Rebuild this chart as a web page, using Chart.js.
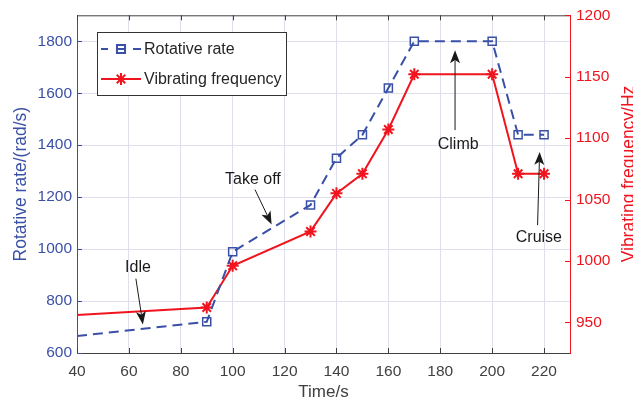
<!DOCTYPE html>
<html>
<head>
<meta charset="utf-8">
<script src="https://cdn.jsdelivr.net/npm/chart.js@4.4.1/dist/chart.umd.min.js"></script>
<style>
  html, body { margin: 0; padding: 0; background: #fff; }
  #wrap { width: 633px; height: 405px; }
</style>
</head>
<body>
<div id="wrap"><canvas id="chart"></canvas></div>
<script>
// data
const times = [40, 90, 100, 130, 140, 150, 160, 170, 200, 210, 220];
const rotativeRate = [665, 720, 990, 1170, 1350, 1440, 1620, 1800, 1800, 1440, 1440];
const vibratingFreq = [956, 962, 996, 1024, 1055, 1071, 1107, 1152, 1152, 1071, 1071];
const markerShown = [false, true, true, true, true, true, true, true, true, true, true];

const timeTicks = [40, 60, 80, 100, 120, 140, 160, 180, 200, 220];
const rateTicks = [600, 800, 1000, 1200, 1400, 1600, 1800];
const freqTicks = [950, 1000, 1050, 1100, 1150, 1200];

const BLUE = '#3a50a6';
const RED = '#f0141e';
const DARK = '#404040';
const GRID = '#dfdfec';
const FONT = '"Liberation Sans", Arial, Helvetica, sans-serif';

// phase labels with arrows, in data units of time / rotative rate
const notes = [
    { text: 'Idle', at: [63.5, 928], from: [62.7, 886], to: [65.4, 710] },
    { text: 'Take off', at: [107.8, 1267], from: [108.6, 1229], to: [115, 1095] },
    { text: 'Climb', at: [186.9, 1401], from: [185.7, 1458], to: [185.7, 1765] },
    { text: 'Cruise', at: [218, 1043], from: [217.5, 1092], to: [218.3, 1374] }
];

function pts(ys) {
    return times.map((t, i) => ({ x: t, y: ys[i] }));
}

function arrow(ctx, x0, y0, x1, y1) {
    const ang = Math.atan2(y1 - y0, x1 - x0);
    const len = 13, half = 5, notch = 0.75;
    ctx.beginPath();
    ctx.moveTo(x0, y0);
    ctx.lineTo(x1 - Math.cos(ang) * len * notch, y1 - Math.sin(ang) * len * notch);
    ctx.stroke();
    ctx.save();
    ctx.translate(x1, y1);
    ctx.rotate(ang);
    ctx.beginPath();
    ctx.moveTo(0, 0);
    ctx.lineTo(-len, -half);
    ctx.lineTo(-len * notch, 0);
    ctx.lineTo(-len, half);
    ctx.closePath();
    ctx.fill();
    ctx.restore();
}

const extras = {
    id: 'extras',
    afterDatasetsDraw(chart) {
        const { ctx, chartArea: a, scales } = chart;
        const x = scales.x, yL = scales.y, yR = scales.y2;
        ctx.save();

        // top frame line
        ctx.strokeStyle = DARK;
        ctx.lineWidth = 1;
        ctx.beginPath();
        ctx.moveTo(a.left, a.top + 0.5);
        ctx.lineTo(a.right, a.top + 0.5);
        ctx.stroke();

        // inward tick marks
        const tl = 5;
        timeTicks.forEach(v => {
            const px = Math.round(x.getPixelForValue(v)) + 0.5;
            ctx.strokeStyle = DARK;
            ctx.beginPath();
            ctx.moveTo(px, a.bottom); ctx.lineTo(px, a.bottom - tl);
            ctx.moveTo(px, a.top); ctx.lineTo(px, a.top + tl);
            ctx.stroke();
        });
        ctx.strokeStyle = BLUE;
        rateTicks.forEach(v => {
            const py = Math.round(yL.getPixelForValue(v)) + 0.5;
            ctx.beginPath();
            ctx.moveTo(a.left, py); ctx.lineTo(a.left + tl, py);
            ctx.stroke();
        });
        ctx.strokeStyle = RED;
        freqTicks.forEach(v => {
            const py = Math.round(yR.getPixelForValue(v)) + 0.5;
            ctx.beginPath();
            ctx.moveTo(a.right, py); ctx.lineTo(a.right - tl, py);
            ctx.stroke();
        });

        // right axis title, reads bottom to top like the left one
        ctx.save();
        ctx.fillStyle = RED;
        ctx.font = '17.5px ' + FONT;
        ctx.textAlign = 'center';
        ctx.textBaseline = 'middle';
        ctx.translate(629, 174);
        ctx.rotate(-Math.PI / 2);
        ctx.fillText('Vibrating frequency/Hz', 0, 0);
        ctx.restore();

        // annotations
        ctx.fillStyle = '#1a1a1a';
        ctx.strokeStyle = '#1a1a1a';
        ctx.lineWidth = 1;
        ctx.font = '16px ' + FONT;
        ctx.textAlign = 'center';
        ctx.textBaseline = 'middle';
        notes.forEach(n => {
            ctx.fillText(n.text, x.getPixelForValue(n.at[0]), yL.getPixelForValue(n.at[1]));
            arrow(ctx,
                x.getPixelForValue(n.from[0]), yL.getPixelForValue(n.from[1]),
                x.getPixelForValue(n.to[0]), yL.getPixelForValue(n.to[1]));
        });

        // legend box
        const bx = 97, by = 32, bw = 189, bh = 63;
        ctx.fillStyle = '#fff';
        ctx.fillRect(bx, by, bw, bh);
        ctx.strokeStyle = '#333';
        ctx.strokeRect(bx + 0.5, by + 0.5, bw, bh);

        const ds = chart.data.datasets;
        const rows = [49, 79];
        // rotative rate sample
        ctx.strokeStyle = BLUE;
        ctx.lineWidth = 2;
        ctx.beginPath();
        ctx.moveTo(101, rows[0]); ctx.lineTo(108, rows[0]);
        ctx.moveTo(133, rows[0]); ctx.lineTo(141, rows[0]);
        ctx.stroke();
        Chart.helpers.drawPoint(ctx, { pointStyle: 'rect', radius: 5.7, borderWidth: 1.5 }, 121, rows[0]);
        ctx.beginPath();
        ctx.moveTo(117, rows[0]); ctx.lineTo(125, rows[0]);
        ctx.stroke();
        // vibrating frequency sample
        ctx.strokeStyle = RED;
        ctx.fillStyle = RED;
        ctx.lineWidth = 2;
        ctx.beginPath();
        ctx.moveTo(101, rows[1]); ctx.lineTo(141, rows[1]);
        ctx.stroke();
        Chart.helpers.drawPoint(ctx, { pointStyle: 'star', radius: 6, borderWidth: 2 }, 121, rows[1]);

        ctx.fillStyle = '#262626';
        ctx.textAlign = 'left';
        ctx.fillText(ds[0].label, 144, rows[0] + 1);
        ctx.fillText(ds[1].label, 144, rows[1] + 1);

        ctx.restore();
    }
};

const tickFont = { size: 15.5, family: FONT };
const plain = v => String(v);

new Chart(document.getElementById('chart'), {
    type: 'line',
    data: {
        datasets: [
            {
                label: 'Rotative rate',
                data: pts(rotativeRate),
                yAxisID: 'y',
                borderColor: BLUE,
                borderWidth: 2,
                borderDash: [10, 6],
                pointStyle: 'rect',
                pointRadius: markerShown.map(m => m ? 5.7 : 0),
                pointBorderWidth: 1.5,
                pointBorderColor: BLUE,
                pointBackgroundColor: 'rgba(0,0,0,0)',
                fill: false,
                tension: 0
            },
            {
                label: 'Vibrating frequency',
                data: pts(vibratingFreq),
                yAxisID: 'y2',
                borderColor: RED,
                borderWidth: 2,
                pointStyle: 'star',
                pointRadius: markerShown.map(m => m ? 6 : 0),
                pointBorderWidth: 2,
                pointBorderColor: RED,
                pointBackgroundColor: RED,
                fill: false,
                tension: 0
            }
        ]
    },
    options: {
        responsive: true,
        maintainAspectRatio: false,
        animation: false,
        layout: { padding: { top: 13, left: 0, right: 0, bottom: 0 } },
        plugins: {
            legend: { display: false },
            tooltip: { enabled: false }
        },
        scales: {
            x: {
                type: 'linear',
                min: 40,
                max: 230,
                afterBuildTicks: s => { s.ticks = timeTicks.map(v => ({ value: v })); },
                afterFit: s => { s.height = 52; },
                grid: { color: GRID, drawTicks: false },
                border: { color: DARK, width: 1 },
                ticks: { color: DARK, padding: 9, font: tickFont, maxRotation: 0, callback: plain },
                title: {
                    display: true, text: 'Time/s', color: DARK,
                    font: { size: 17, family: FONT }, padding: { top: 0, bottom: 2 }
                }
            },
            y: {
                position: 'left',
                min: 600,
                max: 1900,
                afterBuildTicks: s => { s.ticks = rateTicks.map(v => ({ value: v })); },
                afterFit: s => { s.width = 77; },
                grid: { color: GRID, drawTicks: false },
                border: { color: BLUE, width: 1 },
                ticks: { color: BLUE, padding: 5, font: tickFont, callback: plain },
                title: {
                    display: true, text: 'Rotative rate/(rad/s)', color: BLUE,
                    font: { size: 17.5, family: FONT }, padding: { top: 11, bottom: 0 }
                }
            },
            y2: {
                position: 'right',
                min: 925,
                max: 1200,
                afterBuildTicks: s => { s.ticks = freqTicks.map(v => ({ value: v })); },
                afterFit: s => { s.width = 63; },
                grid: { display: true, drawOnChartArea: false, drawTicks: false },
                border: { color: RED, width: 1 },
                ticks: { color: RED, padding: 6, font: tickFont, callback: plain },
                title: { display: false }
            }
        }
    },
    plugins: [extras]
});
</script>
</body>
</html>
